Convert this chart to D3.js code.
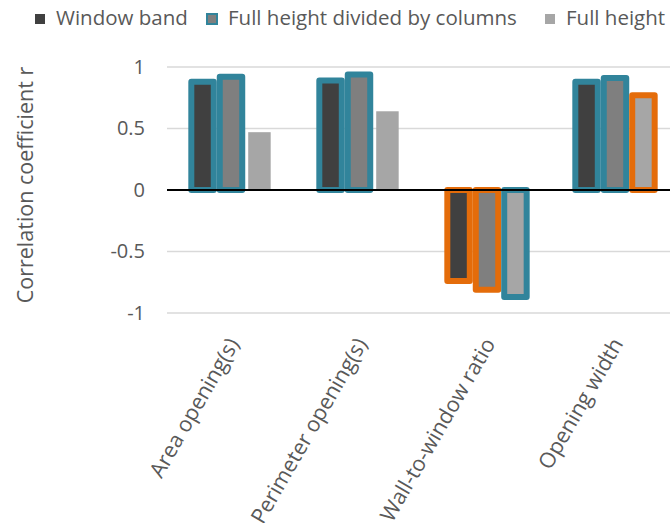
<!DOCTYPE html>
<html>
<head>
<meta charset="utf-8">
<script src="https://cdn.jsdelivr.net/npm/d3@7/dist/d3.min.js"></script>
<style>
  html, body { margin: 0; padding: 0; background: #fff; }
  svg { display: block; font-family: "Open Sans", sans-serif; }
</style>
</head>
<body>
<svg id="chart" width="670" height="523"></svg>
<script>
// Correlation of each opening metric with the three facade configurations
const categories = ["Area opening(s)", "Perimeter opening(s)", "Wall-to-window ratio", "Opening width"];
const seriesNames = ["Window band", "Full height divided by columns", "Full height"];
const windowBand = [0.88, 0.89, -0.74, 0.88];
const fullHeightColumns = [0.92, 0.94, -0.81, 0.91];
const fullHeight = [0.47, 0.64, -0.87, 0.77];
// Outline highlight per bar: "t" = teal, "o" = orange, "" = none
const outlineWindowBand = ["t", "t", "o", "t"];
const outlineFullHeightColumns = ["t", "t", "o", "t"];
const outlineFullHeight = ["", "", "t", "o"];
const yTicks = [-1, -0.5, 0, 0.5, 1];

const seriesValues = [windowBand, fullHeightColumns, fullHeight];
const seriesOutlines = [outlineWindowBand, outlineFullHeightColumns, outlineFullHeight];
const fills = ["#404040", "#7f7f7f", "#a6a6a6"];
const outlineColors = { t: "#31849b", o: "#e46c0a" };
const textColor = "#595959";

const svg = d3.select("#chart");

const x0 = d3.scaleBand().domain(categories).range([167, 679])
  .paddingInner(0.38).paddingOuter(0.19);
const x1 = d3.scaleBand().domain(seriesNames).range([0, x0.bandwidth()])
  .paddingInner(0.21);
const y = d3.scaleLinear().domain([-1, 1]).range([313, 67]);

// Horizontal gridlines
svg.append("g").selectAll("line")
  .data(yTicks.filter(d => d !== 0))
  .join("line")
  .attr("x1", 167).attr("x2", 670)
  .attr("y1", d => y(d)).attr("y2", d => y(d))
  .attr("stroke", "#d9d9d9").attr("stroke-width", 1.5);

// Y axis tick labels
const yAxis = d3.axisLeft(y).tickValues(yTicks).tickSize(0).tickPadding(0)
  .tickFormat(d => String(d));
svg.append("g").attr("transform", "translate(145,0)").call(yAxis)
  .call(g => g.select(".domain").remove())
  .call(g => g.selectAll("text")
    .attr("fill", textColor).attr("font-size", 20)
    .attr("font-family", "Open Sans, sans-serif"));

// Bars
const rows = categories.map((c, i) => ({
  cat: c,
  bars: seriesNames.map((s, j) => ({
    s, v: seriesValues[j][i], o: seriesOutlines[j][i], fill: fills[j]
  }))
}));

svg.append("g").selectAll("g")
  .data(rows)
  .join("g")
  .attr("transform", d => `translate(${x0(d.cat)},0)`)
  .selectAll("rect")
  .data(d => d.bars)
  .join("rect")
  .attr("x", d => x1(d.s))
  .attr("width", x1.bandwidth())
  .attr("y", d => y(Math.max(0, d.v)))
  .attr("height", d => Math.abs(y(d.v) - y(0)))
  .attr("fill", d => d.fill)
  .attr("stroke", d => d.o ? outlineColors[d.o] : "none")
  .attr("stroke-width", 6)
  .attr("stroke-linejoin", "round");

// Zero line
svg.append("line")
  .attr("x1", 167).attr("x2", 670)
  .attr("y1", y(0)).attr("y2", y(0))
  .attr("stroke", "#000").attr("stroke-width", 1.8);

// Category labels, rotated
const xAxis = d3.axisBottom(x0).tickSize(0).tickPadding(0);
svg.append("g").attr("transform", "translate(0,333)").call(xAxis)
  .call(g => g.select(".domain").remove())
  .call(g => g.selectAll("text")
    .attr("fill", textColor).attr("font-size", 21.5)
    .attr("font-family", "Open Sans, sans-serif")
    .attr("text-anchor", "end")
    .attr("dy", "0.8em")
    .attr("transform", "translate(-6,2) rotate(-60)"));

// Y axis title
svg.append("text")
  .attr("transform", "translate(33,185) rotate(-90)")
  .attr("text-anchor", "middle")
  .attr("fill", textColor).attr("font-size", 21.5)
  .text("Correlation coefficient r");

// Legend
const legendX = [35, 207, 545];
const legend = svg.append("g").selectAll("g")
  .data(seriesNames)
  .join("g")
  .attr("transform", (d, i) => `translate(${legendX[i]},14)`);
legend.append("rect")
  .attr("width", 10).attr("height", 10)
  .attr("fill", (d, i) => fills[i])
  .attr("stroke", (d, i) => i === 1 ? outlineColors.t : "none")
  .attr("stroke-width", 2);
legend.append("text")
  .attr("x", 21).attr("y", 11)
  .attr("fill", textColor).attr("font-size", 20.5)
  .text(d => d);
</script>
</body>
</html>
